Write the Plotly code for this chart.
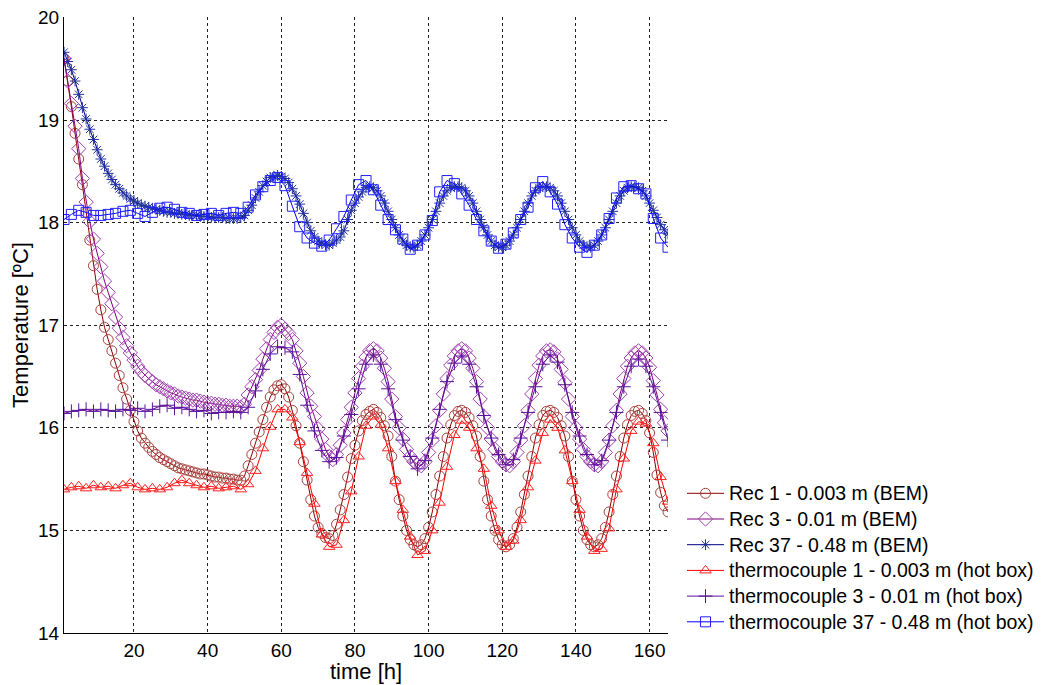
import plotly.graph_objects as go

# ---------------- data ----------------
t_bem = list(range(1, 166))          # hourly model output
t_tc = list(range(1, 166, 2))        # measurements every 2 h

rec1 = [19.60, 19.38, 19.13, 18.87, 18.62, 18.37, 18.10, 17.83, 17.58, 17.35,
        17.15, 16.98, 16.86, 16.75, 16.63, 16.51, 16.39, 16.28, 16.17, 16.06,
        15.97, 15.90, 15.85, 15.81, 15.77, 15.74, 15.71, 15.69, 15.67, 15.65,
        15.63, 15.61, 15.60, 15.59, 15.58, 15.57, 15.56, 15.55, 15.55, 15.54,
        15.53, 15.52, 15.52, 15.51, 15.51, 15.50, 15.50, 15.49, 15.49, 15.53,
        15.63, 15.74, 15.85, 15.96, 16.08, 16.20, 16.30, 16.37, 16.41, 16.42,
        16.38, 16.30, 16.17, 16.02, 15.85, 15.67, 15.49, 15.30, 15.14, 15.03,
        14.97, 14.93, 14.92, 14.95, 15.06, 15.20, 15.35, 15.52, 15.70, 15.83,
        15.97, 16.07, 16.13, 16.16, 16.18, 16.15, 16.10, 16.02, 15.92, 15.72,
        15.48, 15.30, 15.14, 15.00, 14.91, 14.86, 14.84, 14.86, 14.92, 15.03,
        15.18, 15.35, 15.53, 15.72, 15.90, 16.03, 16.12, 16.16, 16.17, 16.15,
        16.10, 16.02, 15.92, 15.72, 15.48, 15.30, 15.14, 15.00, 14.91, 14.86,
        14.84, 14.86, 14.92, 15.03, 15.18, 15.35, 15.53, 15.72, 15.90, 16.03,
        16.12, 16.16, 16.17, 16.15, 16.10, 16.02, 15.92, 15.72, 15.48, 15.30,
        15.14, 15.00, 14.91, 14.86, 14.84, 14.86, 14.92, 15.03, 15.18, 15.35,
        15.53, 15.72, 15.90, 16.03, 16.12, 16.16, 16.17, 16.14, 16.07, 15.95,
        15.76, 15.54, 15.37, 15.24, 15.18]

rec3 = [19.60, 19.38, 19.16, 18.94, 18.72, 18.43, 18.20, 18.01, 17.84, 17.70,
        17.57, 17.43, 17.32, 17.21, 17.08, 16.97, 16.88, 16.80, 16.73, 16.66,
        16.60, 16.55, 16.51, 16.48, 16.45, 16.42, 16.40, 16.38, 16.36, 16.34,
        16.33, 16.31, 16.30, 16.29, 16.28, 16.27, 16.27, 16.26, 16.25, 16.24,
        16.24, 16.23, 16.23, 16.22, 16.22, 16.21, 16.21, 16.21, 16.20, 16.23,
        16.32, 16.40, 16.47, 16.56, 16.67, 16.77, 16.86, 16.93, 16.98, 17.00,
        16.96, 16.92, 16.86, 16.75, 16.63, 16.50, 16.34, 16.21, 16.11, 15.99,
        15.89, 15.79, 15.72, 15.69, 15.74, 15.83, 15.95, 16.08, 16.20, 16.34,
        16.48, 16.60, 16.69, 16.75, 16.77, 16.75, 16.68, 16.58, 16.45, 16.28,
        16.11, 16.00, 15.89, 15.79, 15.72, 15.67, 15.64, 15.63, 15.67, 15.76,
        15.88, 16.02, 16.17, 16.33, 16.48, 16.61, 16.70, 16.75, 16.77, 16.75,
        16.68, 16.58, 16.45, 16.28, 16.11, 16.00, 15.89, 15.79, 15.72, 15.67,
        15.64, 15.63, 15.67, 15.76, 15.88, 16.02, 16.17, 16.33, 16.48, 16.61,
        16.70, 16.75, 16.76, 16.74, 16.67, 16.57, 16.44, 16.28, 16.11, 16.00,
        15.89, 15.79, 15.72, 15.67, 15.64, 15.63, 15.67, 15.76, 15.88, 16.02,
        16.17, 16.33, 16.48, 16.60, 16.68, 16.73, 16.75, 16.73, 16.68, 16.59,
        16.46, 16.32, 16.18, 16.05, 15.97]

rec37 = [19.66, 19.57, 19.49, 19.38, 19.25, 19.12, 19.01, 18.91, 18.81, 18.71,
         18.62, 18.55, 18.48, 18.42, 18.37, 18.33, 18.29, 18.26, 18.23, 18.21,
         18.19, 18.17, 18.16, 18.15, 18.14, 18.13, 18.12, 18.11, 18.10, 18.10,
         18.09, 18.09, 18.08, 18.08, 18.07, 18.07, 18.07, 18.06, 18.06, 18.06,
         18.05, 18.05, 18.05, 18.05, 18.04, 18.04, 18.04, 18.04, 18.05, 18.07,
         18.12, 18.17, 18.24, 18.30, 18.36, 18.40, 18.44, 18.45, 18.46, 18.45,
         18.43, 18.39, 18.33, 18.26, 18.18, 18.09, 18.00, 17.92, 17.86, 17.82,
         17.80, 17.78, 17.78, 17.80, 17.83, 17.86, 17.92, 18.03, 18.12, 18.19,
         18.25, 18.30, 18.34, 18.35, 18.34, 18.31, 18.26, 18.19, 18.11, 18.03,
         17.95, 17.88, 17.82, 17.78, 17.76, 17.76, 17.78, 17.82, 17.88, 17.95,
         18.03, 18.11, 18.19, 18.26, 18.31, 18.34, 18.35, 18.35, 18.34, 18.31,
         18.26, 18.19, 18.11, 18.03, 17.95, 17.88, 17.82, 17.78, 17.76, 17.76,
         17.78, 17.82, 17.88, 17.95, 18.03, 18.11, 18.19, 18.26, 18.31, 18.34,
         18.35, 18.35, 18.34, 18.31, 18.26, 18.19, 18.11, 18.03, 17.95, 17.88,
         17.82, 17.78, 17.76, 17.76, 17.78, 17.82, 17.88, 17.95, 18.03, 18.11,
         18.19, 18.26, 18.31, 18.34, 18.35, 18.35, 18.34, 18.31, 18.26, 18.19,
         18.12, 18.05, 17.98, 17.93, 17.89]

tc1 = [15.40, 15.42, 15.43, 15.41, 15.44, 15.42, 15.43, 15.41, 15.44, 15.46,
       15.42, 15.40, 15.41, 15.40, 15.42, 15.46, 15.49, 15.46, 15.44, 15.42,
       15.43, 15.41, 15.42, 15.43, 15.40, 15.45, 15.58, 15.80, 16.01, 16.18,
       16.18, 16.10, 15.86, 15.56, 15.26, 14.96, 14.84, 14.86, 15.10, 15.38,
       15.72, 16.02, 16.11, 16.03, 15.80, 15.48, 15.20, 14.94, 14.76, 14.80,
       15.00, 15.27, 15.62, 15.93, 16.07, 16.00, 15.80, 15.60, 15.24, 15.00,
       14.84, 14.90, 15.10, 15.42, 15.68, 15.95, 16.08, 16.00, 15.78, 15.48,
       15.20, 14.94, 14.80, 14.82, 15.02, 15.40, 15.70, 15.97, 16.06, 16.04,
       15.85, 15.52, 15.28]

tc3 = [16.14, 16.16, 16.17, 16.18, 16.16, 16.18, 16.17, 16.16, 16.18, 16.17,
       16.19, 16.16, 16.18, 16.21, 16.22, 16.19, 16.20, 16.18, 16.16, 16.17,
       16.14, 16.15, 16.15, 16.16, 16.15, 16.20, 16.36, 16.57, 16.72, 16.79,
       16.78, 16.74, 16.52, 16.22, 15.97, 15.78, 15.67, 15.71, 15.92, 16.13,
       16.38, 16.62, 16.71, 16.62, 16.38, 16.08, 15.88, 15.72, 15.60, 15.68,
       15.90, 16.18, 16.45, 16.63, 16.70, 16.62, 16.40, 16.12, 15.90, 15.74,
       15.64, 15.69, 15.90, 16.15, 16.40, 16.62, 16.71, 16.64, 16.42, 16.15,
       15.92, 15.74, 15.64, 15.68, 15.88, 16.15, 16.40, 16.60, 16.67, 16.60,
       16.40, 16.15, 15.88]

tc37 = [18.03, 18.08, 18.12, 18.10, 18.07, 18.07, 18.08, 18.09, 18.11, 18.12,
        18.09, 18.06, 18.10, 18.14, 18.15, 18.13, 18.10, 18.09, 18.07, 18.08,
        18.09, 18.07, 18.09, 18.10, 18.09, 18.15, 18.27, 18.35, 18.41, 18.44,
        18.36, 18.16, 17.96, 17.85, 17.80, 17.77, 17.83, 17.94, 18.06, 18.22,
        18.37, 18.41, 18.32, 18.17, 18.03, 17.93, 17.84, 17.74, 17.78, 17.88,
        18.02, 18.30, 18.41, 18.38, 18.28, 18.17, 18.03, 17.92, 17.82, 17.75,
        17.79, 17.90, 18.03, 18.15, 18.34, 18.40, 18.30, 18.18, 17.98, 17.85,
        17.76, 17.71, 17.78, 17.88, 18.04, 18.24, 18.35, 18.36, 18.33, 18.28,
        18.04, 17.85, 17.76]

x_ticks = [20, 40, 60, 80, 100, 120, 140, 160]
y_ticks = [14, 15, 16, 17, 18, 19, 20]

series = [
    ("Rec 1 - 0.003 m (BEM)", t_bem, rec1, "#8B0000", "#A8403C", "circle-open", 10),
    ("Rec 3 - 0.01 m (BEM)", t_bem, rec3, "#800080", "#A040B0", "diamond-open", 11),
    ("Rec 37 - 0.48 m (BEM)", t_bem, rec37, "#000080", "#2030A0", "asterisk-open", 9),
    ("thermocouple 1 - 0.003 m (hot box)", t_tc, tc1, "#FF0000", "#FF2020", "triangle-up-open", 10),
    ("thermocouple 3 - 0.01 m (hot box)", t_tc, tc3, "#5A1199", "#5A1199", "cross-thin-open", 10),
    ("thermocouple 37 - 0.48 m (hot box)", t_tc, tc37, "#0000FF", "#2020FF", "square-open", 10),
]

# ---------------- layout constants (pixels inside the figure) ----------------
W, H = 1044, 685
ML, MT, MB = 56, 9, 60          # margins
PLOT_W = 604                     # width of the main plot area
PLOT_H = H - MT - MB             # height of the main plot area
FULL_W = W - ML                  # width available to subplots (r margin = 0)

LEG_X0, LEG_X1, LEG_TX = 679, 716, 720       # legend sample line and text x
LEG_Y0, LEG_DY = 485.3, 25.7                   # first legend row y and spacing

x2_dom0 = 0.62
y2_dom1 = 0.30
x2_range = [ML + x2_dom0 * FULL_W, W]
y2_range = [MT + PLOT_H, MT + PLOT_H - y2_dom1 * PLOT_H]   # reversed: value = pixel row

font = "Arial, Liberation Sans, sans-serif"

fig = go.Figure()
for name, xs, ys, lc, mc, sym, sz in series:
    fig.add_trace(go.Scatter(
        x=xs, y=ys, name=name, mode="lines+markers", showlegend=False,
        line=dict(color=lc, width=1),
        marker=dict(symbol=sym, size=sz, color=mc, line=dict(color=mc, width=1)),
    ))

# hand-built legend (tight MATLAB-like spacing)
annotations = []
for i, (name, xs, ys, lc, mc, sym, sz) in enumerate(series):
    ly = LEG_Y0 + i * LEG_DY
    fig.add_trace(go.Scatter(
        x=[LEG_X0, LEG_X1], y=[ly, ly], mode="lines", showlegend=False,
        line=dict(color=lc, width=1), xaxis="x2", yaxis="y2",
        hoverinfo="skip", cliponaxis=False,
    ))
    fig.add_trace(go.Scatter(
        x=[(LEG_X0 + LEG_X1) / 2], y=[ly], mode="markers", showlegend=False,
        marker=dict(symbol=sym, size=sz, color=mc, line=dict(color=mc, width=1)),
        xaxis="x2", yaxis="y2", hoverinfo="skip", cliponaxis=False,
    ))
    annotations.append(dict(
        x=LEG_TX, y=ly, xref="x2", yref="y2", text=name, showarrow=False,
        xanchor="left", yanchor="middle", borderpad=0,
        font=dict(family=font, size=19.5, color="black"),
    ))

# x-axis title placed below the tick labels, as in the original
annotations.append(dict(
    x=0.5, y=-38 / PLOT_H, xref="x domain", yref="y domain", text="time [h]",
    showarrow=False, xanchor="center", yanchor="middle",
    font=dict(family=font, size=22, color="black"),
))

fig.update_layout(
    width=W, height=H,
    margin=dict(l=ML, r=0, t=MT, b=MB),
    paper_bgcolor="white", plot_bgcolor="white",
    font=dict(family=font, size=19, color="black"),
    showlegend=False,
    annotations=annotations,
    xaxis=dict(domain=[0, PLOT_W / FULL_W], range=[1, 165],
               tickvals=x_ticks, ticktext=[str(v) for v in x_ticks],
               showgrid=True, gridcolor="#222", griddash="dot", gridwidth=1,
               showline=True, linecolor="black", linewidth=1, mirror=False,
               zeroline=False, ticks="", tickfont=dict(size=19),
               ticklabeloverflow="allow"),
    yaxis=dict(range=[14, 20.004], tickvals=y_ticks, ticktext=[str(v) for v in y_ticks],
               showgrid=True, gridcolor="#222", griddash="dot", gridwidth=1,
               showline=True, linecolor="black", linewidth=1, mirror=False,
               zeroline=False, ticks="", tickfont=dict(size=19),
               ticklabeloverflow="allow",
               title=dict(text="Temperature [ºC]", font=dict(size=22), standoff=4)),
    xaxis2=dict(domain=[x2_dom0, 1.0], range=x2_range, anchor="y2", visible=False,
                fixedrange=True),
    yaxis2=dict(domain=[0, y2_dom1], range=y2_range, anchor="x2", visible=False,
                fixedrange=True),
)

fig.write_html("out.html")
